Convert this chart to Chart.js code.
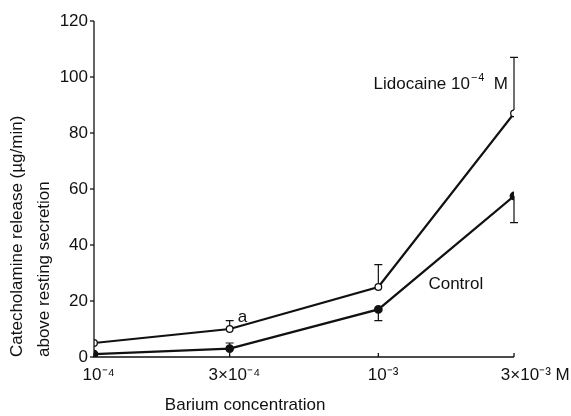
<!DOCTYPE html>
<html><head><meta charset="utf-8">
<script src="https://cdn.jsdelivr.net/npm/chart.js@4/dist/chart.umd.min.js"></script>
<style>html,body{margin:0;padding:0;background:#fff}#wrap{width:571px;height:416px}</style>
</head><body><div id="wrap"><canvas id="c" width="571" height="416"></canvas></div>
<script>
const concentrations = [1e-4, 3e-4, 1e-3, 3e-3];
const tickLabels = ['10\u207B\u2074', '3\u00D710\u207B\u2074', '10\u207B\u00B3', '3\u00D710\u207B\u00B3 M'];
const lidocaine = [5, 10, 25, 87];
const lidocaineErrUp = [null, 13, 33, 107];
const control = [1, 3, 17, 57.5];
const controlErrUp = [null, 5, null, null];
const controlErrDown = [null, null, 13, 48];
const yTicks = [0, 20, 40, 60, 80, 100, 120];

const FONT = 'Liberation Sans';
const NB = '\u00A0';

const deco = {
  id: 'deco',
  afterDatasetsDraw(chart) {
    const {ctx, scales: {x, y}} = chart;
    ctx.save();
    ctx.strokeStyle = '#111'; ctx.lineWidth = 1.3;
    ctx.beginPath();
    ctx.moveTo(x.left, y.top); ctx.lineTo(x.left, y.bottom); ctx.lineTo(x.right, y.bottom);
    ctx.stroke();
    yTicks.forEach(v => { const py = y.getPixelForValue(v); ctx.beginPath(); ctx.moveTo(x.left - 4, py); ctx.lineTo(x.left, py); ctx.stroke(); });
    concentrations.forEach(v => { const px = x.getPixelForValue(v); ctx.beginPath(); ctx.moveTo(px, y.bottom); ctx.lineTo(px, y.bottom - 4); ctx.stroke(); });
    const bar = (v, a, b) => {
      const px = x.getPixelForValue(v), pa = y.getPixelForValue(a), pb = y.getPixelForValue(b);
      ctx.beginPath(); ctx.moveTo(px, pa); ctx.lineTo(px, pb);
      ctx.moveTo(px - 4, pb); ctx.lineTo(px + 4, pb); ctx.stroke();
    };
    ctx.lineWidth = 1.2;
    concentrations.forEach((v, i) => {
      if (lidocaineErrUp[i] != null) bar(v, lidocaine[i] + 1.2, lidocaineErrUp[i]);
      if (controlErrUp[i] != null) bar(v, control[i], controlErrUp[i]);
      if (controlErrDown[i] != null) bar(v, control[i], controlErrDown[i]);
    });
    ctx.fillStyle = '#111';
    ctx.textBaseline = 'middle';
    ctx.textAlign = 'right';
    const lx = x.getPixelForValue(3e-3) - 6, ly = y.getPixelForValue(97.5);
    ctx.font = '17px "' + FONT + '"';
    ctx.fillText('M', lx, ly);
    const mW = ctx.measureText(NB + NB + 'M').width;
    ctx.font = '11px "' + FONT + '"';
    ctx.fillText('\u2212\u200A4', lx - mW, ly - 6);
    const supW = ctx.measureText('\u2212\u200A4').width;
    ctx.font = '17px "' + FONT + '"';
    ctx.fillText('Lidocaine 10', lx - mW - supW - 1, ly);
    ctx.textAlign = 'left';
    ctx.fillText('Control', x.getPixelForValue(1.5e-3), y.getPixelForValue(26));
    ctx.fillText('a', x.getPixelForValue(3e-4) + 8, y.getPixelForValue(14));
    ctx.restore();
  }
};

new Chart(document.getElementById('c'), {
  type: 'line',
  data: {
    datasets: [
      { label: 'Lidocaine 10\u207B\u2074 M', data: concentrations.map((c, i) => ({x: c, y: lidocaine[i]})),
        borderColor: '#111', borderWidth: 2.2, backgroundColor: '#fff', pointBackgroundColor: '#fff',
        pointBorderColor: '#111', pointBorderWidth: 1.3, pointRadius: 3.3, tension: 0 },
      { label: 'Control', data: concentrations.map((c, i) => ({x: c, y: control[i]})),
        borderColor: '#111', borderWidth: 2.2, pointBackgroundColor: '#111',
        pointBorderColor: '#111', pointRadius: 3.3, tension: 0 }
    ]
  },
  options: {
    responsive: false, animation: false, devicePixelRatio: 1,
    layout: { padding: { left: 0, right: 57, top: 21, bottom: 0 } },
    plugins: { legend: { display: false }, tooltip: { enabled: false } },
    scales: {
      x: {
        type: 'logarithmic', min: 1e-4, max: 3e-3,
        afterBuildTicks: s => { s.ticks = concentrations.map(v => ({value: v})); },
        afterFit: s => { s.height = 59; s.paddingLeft = 0; s.paddingRight = 0; },
        grid: { display: false, drawTicks: false },
        border: { display: false },
        ticks: { autoSkip: false, maxRotation: 0, padding: 8, color: '#111',
          font: { family: FONT, size: 17 },
          callback: (v, i) => (i === 3 ? NB.repeat(9) : NB.repeat(2)) + tickLabels[i] },
        title: { display: true, align: 'start', text: NB.repeat(15) + 'Barium concentration', color: '#111',
          font: { family: FONT, size: 17 }, padding: { top: 0, bottom: 0 } }
      },
      y: {
        min: 0, max: 120,
        afterBuildTicks: s => { s.ticks = yTicks.map(v => ({value: v})); },
        afterFit: s => { s.width = 94; s.paddingTop = 0; s.paddingBottom = 0; },
        grid: { display: false, drawTicks: false },
        border: { display: false },
        ticks: { padding: 6, color: '#111', font: { family: FONT, size: 17 } },
        title: { display: true, align: 'start', text: ['Catecholamine release (\u00B5g/min)', 'above resting secretion'],
          color: '#111', font: { family: FONT, size: 17, lineHeight: 1.6 }, padding: { top: 4, bottom: 0 } }
      }
    }
  },
  plugins: [deco]
});
</script></body></html>
